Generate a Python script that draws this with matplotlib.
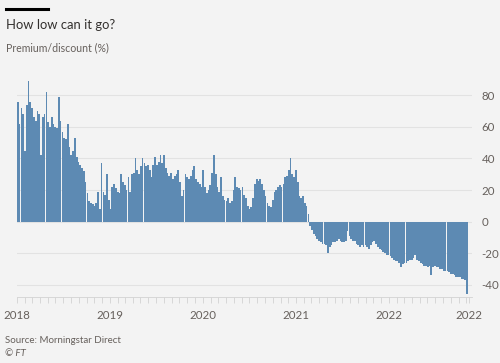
from __future__ import annotations

import matplotlib
matplotlib.use("Agg")
import matplotlib.dates as mdates
import matplotlib.pyplot as plt
import numpy as np
import pandas as pd

# weekly premium/discount readings (%) from Jan 2018
PREMIUM_2018 = [76, 62, 72, 68, 45, 74, 89, 76, 72, 66, 64, 70, 68, 42, 66, 68, 82, 63, 60, 66,
                62, 60, 59, 79, 64, 57, 53, 52, 62, 47, 42, 45, 53, 41, 38, 36, 34, 32, 25, 18,
                13, 12, 11, 10, 12, 19, 8, 37, 19, 17, 30, 14]
PREMIUM_2019 = [8, 22, 24, 21, 19, 18, 30, 25, 23, 20, 28, 19, 30, 31, 40, 33, 30, 35, 40, 37,
                35, 36, 33, 28, 36, 41, 36, 38, 42, 37, 42, 34, 31, 29, 31, 27, 29, 30, 33, 25,
                16, 20, 30, 28, 27, 29, 33, 35, 27, 25, 24, 22]
PREMIUM_2020 = [33, 22, 18, 20, 23, 31, 42, 30, 22, 19, 28, 16, 14, 13, 15, 12, 13, 20, 28, 22,
                21, 20, 22, 17, 15, 10, 8, 9, 15, 24, 27, 26, 27, 24, 20, 16, 12, 10, 9, 14,
                19, 20, 22, 23, 22, 24, 28, 29, 33, 40, 30, 28]
PREMIUM_2021 = [33, 25, 16, 15, 16, 12, 10, 5, -3, -5, -8, -9, -11, -12, -13, -14, -14, -15, -20, -16,
                -15, -13, -13, -12, -11, -12, -13, -13, -12, -6, -9, -11, -12, -12, -14, -15, -16, -15, -16, -15,
                -16, -17, -15, -13, -12, -14, -16, -17, -18, -19, -20, -21]
PREMIUM_2022 = [-21, -22, -23, -24, -25, -25, -26, -29, -27, -26, -26, -25, -24, -24, -23, -21, -24, -25, -26, -27,
                -28, -28, -29, -28, -34, -29, -28, -29, -29, -30, -30, -31, -31, -31, -32, -33, -33, -34, -35, -35,
                -35, -36, -36, -37, -46]

Y_TICKS = [-40, -20, 0, 20, 40, 60, 80]
X_TICKS = ["2018-01-01", "2019-01-01", "2020-01-01", "2021-01-01", "2022-01-01", "2022-11-10"]
X_LABELS = ["2018", "2019", "2020", "2021", "2022", "2022"]

BG = "#f3f3f3"
BAR = "#5d8ab3"
GRID = "#e2e2e2"
TEXT = "#33302e"
MUTED = "#66605c"


def main() -> None:
    plt.rcParams["font.family"] = ["Lato", "DejaVu Sans"]

    values = np.array(PREMIUM_2018 + PREMIUM_2019 + PREMIUM_2020 + PREMIUM_2021 + PREMIUM_2022, dtype=float)
    dates = pd.date_range("2018-01-01", periods=len(values), freq="7D")

    fig = plt.figure(figsize=(5.0, 3.63), dpi=100, facecolor=BG)
    ax = fig.add_axes([0.034, 0.1818, 0.91, 0.608])
    ax.set_facecolor(BG)

    ax.bar(dates, values, width=6.7, align="edge", color=BAR, linewidth=0)

    ax.set_xlim(pd.Timestamp("2018-01-01"), pd.Timestamp("2022-11-23"))
    ax.set_ylim(-47.7, 92)

    for y in Y_TICKS:
        ax.axhline(y, color=GRID, linewidth=0.8, zorder=0)

    ax.yaxis.tick_right()
    ax.set_yticks(Y_TICKS)
    ax.set_yticklabels([str(v) for v in Y_TICKS])
    ax.tick_params(axis="y", length=0, pad=7, labelsize=8.3, labelcolor=MUTED)

    ax.set_xticks([mdates.date2num(pd.Timestamp(d)) for d in X_TICKS])
    ax.set_xticklabels(X_LABELS)
    ax.xaxis.set_minor_locator(mdates.MonthLocator())
    ax.tick_params(axis="x", which="major", length=4, width=0.6, color="#d2d2d2",
                   labelsize=8.3, labelcolor=MUTED, pad=5)
    ax.tick_params(axis="x", which="minor", length=4, width=0.6, color="#d2d2d2")

    for side in ["top", "right", "left"]:
        ax.spines[side].set_visible(False)
    ax.spines["bottom"].set_color("#d2d2d2")
    ax.spines["bottom"].set_linewidth(0.6)

    fig.add_artist(plt.Line2D([6 / 500, 48 / 500], [1 - 8.5 / 363, 1 - 8.5 / 363],
                              color="black", linewidth=2.2))
    fig.text(6 / 500, 1 - 29 / 363, "How low can it go?", fontsize=9.4, color=TEXT)
    fig.text(6 / 500, 1 - 51 / 363, "Premium/discount (%)", fontsize=7.6, color=MUTED)
    fig.text(5 / 500, 1 - 343 / 363, "Source: Morningstar Direct", fontsize=7.0, color=MUTED)
    fig.text(5 / 500, 1 - 356 / 363, "© FT", fontsize=7.0, color=MUTED, style="italic")

    fig.savefig("out.png", dpi=100, facecolor=BG)
    plt.close(fig)


if __name__ == "__main__":
    main()
